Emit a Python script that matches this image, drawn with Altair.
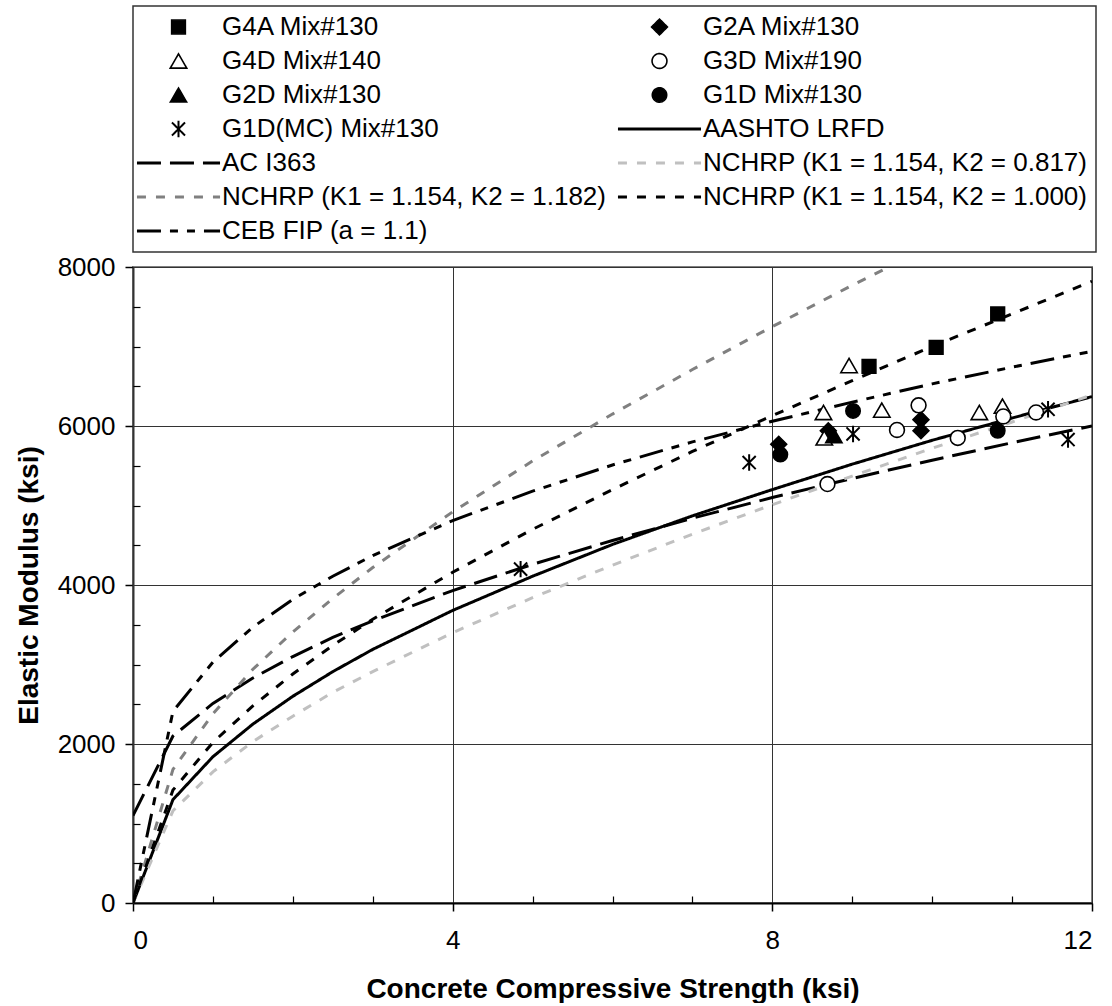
import altair as alt
import pandas as pd

# ---- design-code curves, tabulated against compressive strength (ksi) ----
fc_grid = [0, 0.5, 1, 1.5, 2, 2.5, 3, 4, 5, 6, 7, 8, 9, 10, 11, 12]

aashto_lrfd = [0, 1300, 1840, 2250, 2600, 2910, 3190, 3680, 4110, 4510, 4870, 5200, 5520, 5820, 6100, 6370]
aci_363 = [1100, 2100, 2510, 2830, 3100, 3340, 3550, 3930, 4260, 4560, 4840, 5100, 5340, 5570, 5790, 6000]
nchrp_k2_0817 = [0, 1160, 1650, 2030, 2350, 2650, 2910, 3400, 3840, 4250, 4640, 5010, 5370, 5720, 6050, 6390]
nchrp_k2_1182 = [0, 1680, 2380, 2940, 3410, 3830, 4220, 4920, 5560, 6150, 6710, 7250, 7770, 8270, 8760, 9240]
nchrp_k2_1000 = [0, 1420, 2020, 2480, 2880, 3240, 3570, 4160, 4700, 5200, 5680, 6130, 6570, 7000, 7410, 7820]
ceb_fip = [0, 2410, 3030, 3470, 3820, 4110, 4370, 4810, 5180, 5510, 5800, 6060, 6300, 6530, 6740, 6940]

# ---- measured elastic modulus, per girder mix ----
g4a_fc = [9.21, 10.05, 10.82]
g4a_e = [6750, 6990, 7410]
g2a_fc = [8.08, 8.70, 9.86, 9.86]
g2a_e = [5770, 5940, 6080, 5940]
g4d_fc = [8.64, 8.65, 8.96, 9.37, 10.59, 10.88]
g4d_e = [6170, 5850, 6760, 6200, 6170, 6250]
g3d_fc = [8.69, 9.56, 9.83, 10.32, 10.89, 11.30]
g3d_e = [5270, 5950, 6260, 5850, 6120, 6170]
g2d_fc = [8.77]
g2d_e = [5880]
g1d_fc = [8.10, 9.01, 10.82]
g1d_e = [5640, 6190, 5940]
g1d_mc_fc = [4.85, 7.71, 9.01, 11.45, 11.70]
g1d_mc_e = [4200, 5540, 5900, 6210, 5830]

series_order = [
    "G4A Mix#130", "G2A Mix#130",
    "G4D Mix#140", "G3D Mix#190",
    "G2D Mix#130", "G1D Mix#130",
    "G1D(MC) Mix#130", "AASHTO LRFD",
    "AC I363", "NCHRP (K1 = 1.154, K2 = 0.817)",
    "NCHRP (K1 = 1.154, K2 = 1.182)", "NCHRP (K1 = 1.154, K2 = 1.000)",
    "CEB FIP (a = 1.1)",
]

curves = {
    "AASHTO LRFD": aashto_lrfd,
    "AC I363": aci_363,
    "NCHRP (K1 = 1.154, K2 = 0.817)": nchrp_k2_0817,
    "NCHRP (K1 = 1.154, K2 = 1.182)": nchrp_k2_1182,
    "NCHRP (K1 = 1.154, K2 = 1.000)": nchrp_k2_1000,
    "CEB FIP (a = 1.1)": ceb_fip,
}
measured = {
    "G4A Mix#130": (g4a_fc, g4a_e),
    "G2A Mix#130": (g2a_fc, g2a_e),
    "G4D Mix#140": (g4d_fc, g4d_e),
    "G3D Mix#190": (g3d_fc, g3d_e),
    "G2D Mix#130": (g2d_fc, g2d_e),
    "G1D Mix#130": (g1d_fc, g1d_e),
    "G1D(MC) Mix#130": (g1d_mc_fc, g1d_mc_e),
}

line_df = pd.DataFrame(
    [{"series": s, "fc": f, "E": e} for s, vals in curves.items() for f, e in zip(fc_grid, vals)]
)
point_df = pd.DataFrame(
    [{"series": s, "fc": f, "E": e} for s, (fs, es) in measured.items() for f, e in zip(fs, es)]
)

# ---- per-series styling (shared by plot and legend) ----
ASTERISK = "M0,-1L0,1M-0.8,-0.8L0.8,0.8M-0.8,0.8L0.8,-0.8"
LINE_SWATCH = "M-5,0L5,0"  # wide flat legend swatch for the curves

shape_range = ["square", "diamond", "triangle-up", "circle", "triangle-up", "circle", ASTERISK] + [LINE_SWATCH] * 6
fill_range = ["black", "black", "white", "white", "black", "black", "transparent"] + ["transparent"] * 6
stroke_range = ["black"] * 7 + ["black", "black", "#c0c0c0", "#808080", "black", "black"]
size_range = [190, 256, 270, 220, 270, 210, 270] + [276] * 6
width_range = [1.5, 1.5, 1.6, 1.6, 1.5, 1.5, 2.0] + [3] * 6
dash_range = [[1, 0]] * 8 + [[24, 9], [9, 10], [9, 10], [9, 10], [24, 9, 8, 9, 8, 9]]


def sc(rng, kind="ordinal"):
    return alt.Scale(domain=series_order, range=rng, type=kind)


x_scale = alt.Scale(domain=[0, 12], nice=False, zero=True)
y_scale = alt.Scale(domain=[0, 8000], nice=False)

FONT = "Liberation Sans"

x_major = alt.Axis(
    values=[0, 4, 8, 12], title="Concrete Compressive Strength (ksi)",
    grid=True, gridColor="#333333", gridWidth=1,
    tickSize=8, tickColor="black", tickWidth=1.5,
    domainColor="black", domainWidth=2,
    labelFontSize=26, labelPadding=16, labelColor="black", labelFont=FONT,
    titleFontSize=28, titleFontWeight="bold", titlePadding=22, titleColor="black", titleFont=FONT,
    orient="bottom",
)
y_major = alt.Axis(
    values=[0, 2000, 4000, 6000, 8000], format="d", title="Elastic Modulus (ksi)",
    grid=True, gridColor="#333333", gridWidth=1,
    tickSize=8, tickColor="black", tickWidth=1.5,
    domainColor="#333333", domainWidth=2,
    labelFontSize=26, labelPadding=10, labelColor="black", labelFont=FONT,
    titleFontSize=28, titleFontWeight="bold", titlePadding=14, titleColor="black", titleFont=FONT,
    orient="left",
)
# inward minor ticks
x_minor = alt.Axis(
    values=[1, 2, 3, 5, 6, 7, 9, 10, 11], orient="bottom", offset=-7,
    tickSize=7, tickColor="black", tickWidth=1.2,
    domain=False, labels=False, grid=False, title=None,
)
y_minor = alt.Axis(
    values=[500, 1000, 1500, 2500, 3000, 3500, 4500, 5000, 5500, 6500, 7000, 7500],
    orient="left", offset=-7,
    tickSize=7, tickColor="black", tickWidth=1.2,
    domain=False, labels=False, grid=False, title=None,
)

lines = alt.Chart(line_df).mark_line(clip=True).encode(
    x=alt.X("fc:Q", scale=x_scale, axis=x_major),
    y=alt.Y("E:Q", scale=y_scale, axis=y_major),
    stroke=alt.Stroke("series:N", scale=sc(stroke_range), title=None),
    strokeDash=alt.StrokeDash("series:N", scale=sc(dash_range), title=None),
    strokeWidth=alt.StrokeWidth("series:N", scale=sc(width_range), title=None),
)

points = alt.Chart(point_df).mark_point(opacity=1).encode(
    x=alt.X("fc:Q", scale=x_scale, axis=x_minor),
    y=alt.Y("E:Q", scale=y_scale, axis=y_minor),
    shape=alt.Shape("series:N", scale=sc(shape_range), title=None),
    fill=alt.Fill("series:N", scale=sc(fill_range), title=None),
    stroke=alt.Stroke("series:N", scale=sc(stroke_range), title=None),
    size=alt.Size("series:N", scale=sc(size_range), title=None),
    strokeWidth=alt.StrokeWidth("series:N", scale=sc(width_range), title=None),
)

chart = (
    alt.layer(lines, points)
    .resolve_axis(x="independent", y="independent")
    .properties(width=959, height=636, padding={"left": 15, "top": 5, "right": 0, "bottom": 0})
    .configure(font=FONT)
    .configure_view(stroke="#808080", strokeWidth=2)
    .configure_legend(
        orient="none", legendX=0, legendY=-261, columns=2, direction="horizontal",
        labelFontSize=26, labelFont=FONT, labelColor="black", labelLimit=0,
        symbolOffset=24.5, labelOffset=30.5, columnPadding=4, rowPadding=8,
        padding=8, strokeColor="#333333", strokeWidth=1.5, fillColor="white",
        symbolOpacity=1,
    )
)

chart.save("out.html", embed_options={"renderer": "svg", "actions": False})
